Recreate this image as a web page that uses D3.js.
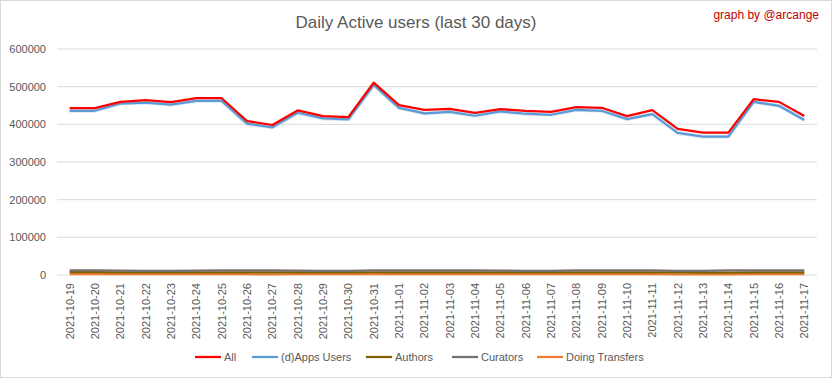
<!DOCTYPE html>
<html><head><meta charset="utf-8">
<script src="https://cdn.jsdelivr.net/npm/d3@7"></script>
<style>body{margin:0;background:#fff}svg{display:block}</style>
</head><body>
<svg id="c" width="833" height="379"></svg>
<script>
const dates = ["2021-10-19","2021-10-20","2021-10-21","2021-10-22","2021-10-23","2021-10-24","2021-10-25","2021-10-26","2021-10-27","2021-10-28","2021-10-29","2021-10-30","2021-10-31","2021-11-01","2021-11-02","2021-11-03","2021-11-04","2021-11-05","2021-11-06","2021-11-07","2021-11-08","2021-11-09","2021-11-10","2021-11-11","2021-11-12","2021-11-13","2021-11-14","2021-11-15","2021-11-16","2021-11-17"];
const allUsers = [443000,443000,459600,464000,458800,469300,469300,408800,398200,436800,421900,419300,510500,450900,438600,441200,430700,440400,436000,433300,445600,443900,421900,437700,387700,378100,378100,466700,459600,421900];
const appsUsers = [436000,436000,455300,457900,452600,462300,462300,401800,392100,430700,415800,413200,504400,443900,429000,433300,422800,434200,428100,425400,438600,436000,414000,427200,377200,367500,367500,459600,449100,411400];
const authors = [7500,7400,7300,7200,7100,7300,7200,6900,6800,7200,7000,6900,7300,7200,7100,7200,7000,7100,6900,6800,7100,7000,6900,7000,6700,6600,6600,7100,7000,6900];
const curators = [12000,12000,11800,11000,11200,11800,12000,12000,12000,11800,11000,11000,12000,12000,12000,12000,12000,11800,11000,11200,12000,12000,12000,12000,11000,11200,12000,12000,12000,12000];
const transfers = [2200,2100,2300,2200,2100,2300,2200,2000,1900,2200,2100,2000,2600,2300,2200,2200,2100,2200,2100,2000,2200,2200,2000,2100,1800,1700,1700,2300,2200,2000];
const yTicks = [0,100000,200000,300000,400000,500000,600000];
const seriesNames = ["All","(d)Apps Users","Authors","Curators","Doing Transfers"];
const seriesColors = ["#FF0000","#5B9BD5","#7F6000","#767171","#ED7D31"];

const svg = d3.select("#c");
const font = "'Liberation Sans',sans-serif";
svg.append("rect").attr("x",0.5).attr("y",0.5).attr("width",831).attr("height",377)
  .attr("fill","#fff").attr("stroke","#d9d9d9");

const x = d3.scaleBand().domain(dates).range([57,817]);
const y = d3.scaleLinear().domain([0,600000]).range([275,49]);
const cx = d => x(d) + x.bandwidth()/2;

svg.append("g").selectAll("line").data(yTicks).join("line")
  .attr("x1",57).attr("x2",817).attr("y1",d=>y(d)).attr("y2",d=>y(d))
  .attr("stroke","#d9d9d9").attr("stroke-width",1);

const ya = svg.append("g").attr("transform","translate(57,0)")
  .call(d3.axisLeft(y).tickValues(yTicks).tickSize(0).tickPadding(11).tickFormat(d3.format("d")));
ya.select(".domain").remove();
ya.selectAll("text").attr("fill","#595959").style("font-family",font).style("font-size","11px");

const xa = svg.append("g").attr("transform","translate(0,275)")
  .call(d3.axisBottom(x).tickSize(0).tickPadding(0));
xa.select(".domain").remove();
xa.selectAll("text").attr("fill","#595959").style("font-family",font).style("font-size","11px")
  .attr("text-anchor","end").attr("transform","rotate(-90)").attr("dx","-8px").attr("dy","0.35em").attr("y",0).attr("x",0);

const seriesData = [allUsers,appsUsers,authors,curators,transfers];
const line = d3.line().x((d,i)=>cx(dates[i])).y(d=>y(d));
const order = [4,2,3,1,0];
order.forEach(k=>{
  if(k===1){
    svg.append("path").datum(seriesData[k]).attr("d",line).attr("fill","none")
      .attr("stroke","#dbe8f5").attr("stroke-width",4).attr("stroke-linejoin","round");
  }
  svg.append("path").datum(seriesData[k]).attr("d",line).attr("fill","none")
    .attr("stroke",seriesColors[k]).attr("stroke-width",2.25).attr("stroke-linejoin","round");
});

svg.append("text").attr("x",416).attr("y",28).attr("text-anchor","middle")
  .attr("fill","#595959").style("font-family",font).style("font-size","17px")
  .text("Daily Active users (last 30 days)");
svg.append("text").attr("x",819).attr("y",19).attr("text-anchor","end")
  .attr("fill","#C00000").style("font-family",font).style("font-size","12px")
  .text("graph by @arcange");

const legX = [195,252,366,452,537];
const lg = svg.append("g");
seriesNames.forEach((n,i)=>{
  lg.append("line").attr("x1",legX[i]).attr("x2",legX[i]+26).attr("y1",357).attr("y2",357)
    .attr("stroke",seriesColors[i]).attr("stroke-width",2.25);
  lg.append("text").attr("x",legX[i]+29).attr("y",357).attr("dy","0.35em")
    .attr("fill","#595959").style("font-family",font).style("font-size","11px").text(n);
});
</script>
</body></html>
